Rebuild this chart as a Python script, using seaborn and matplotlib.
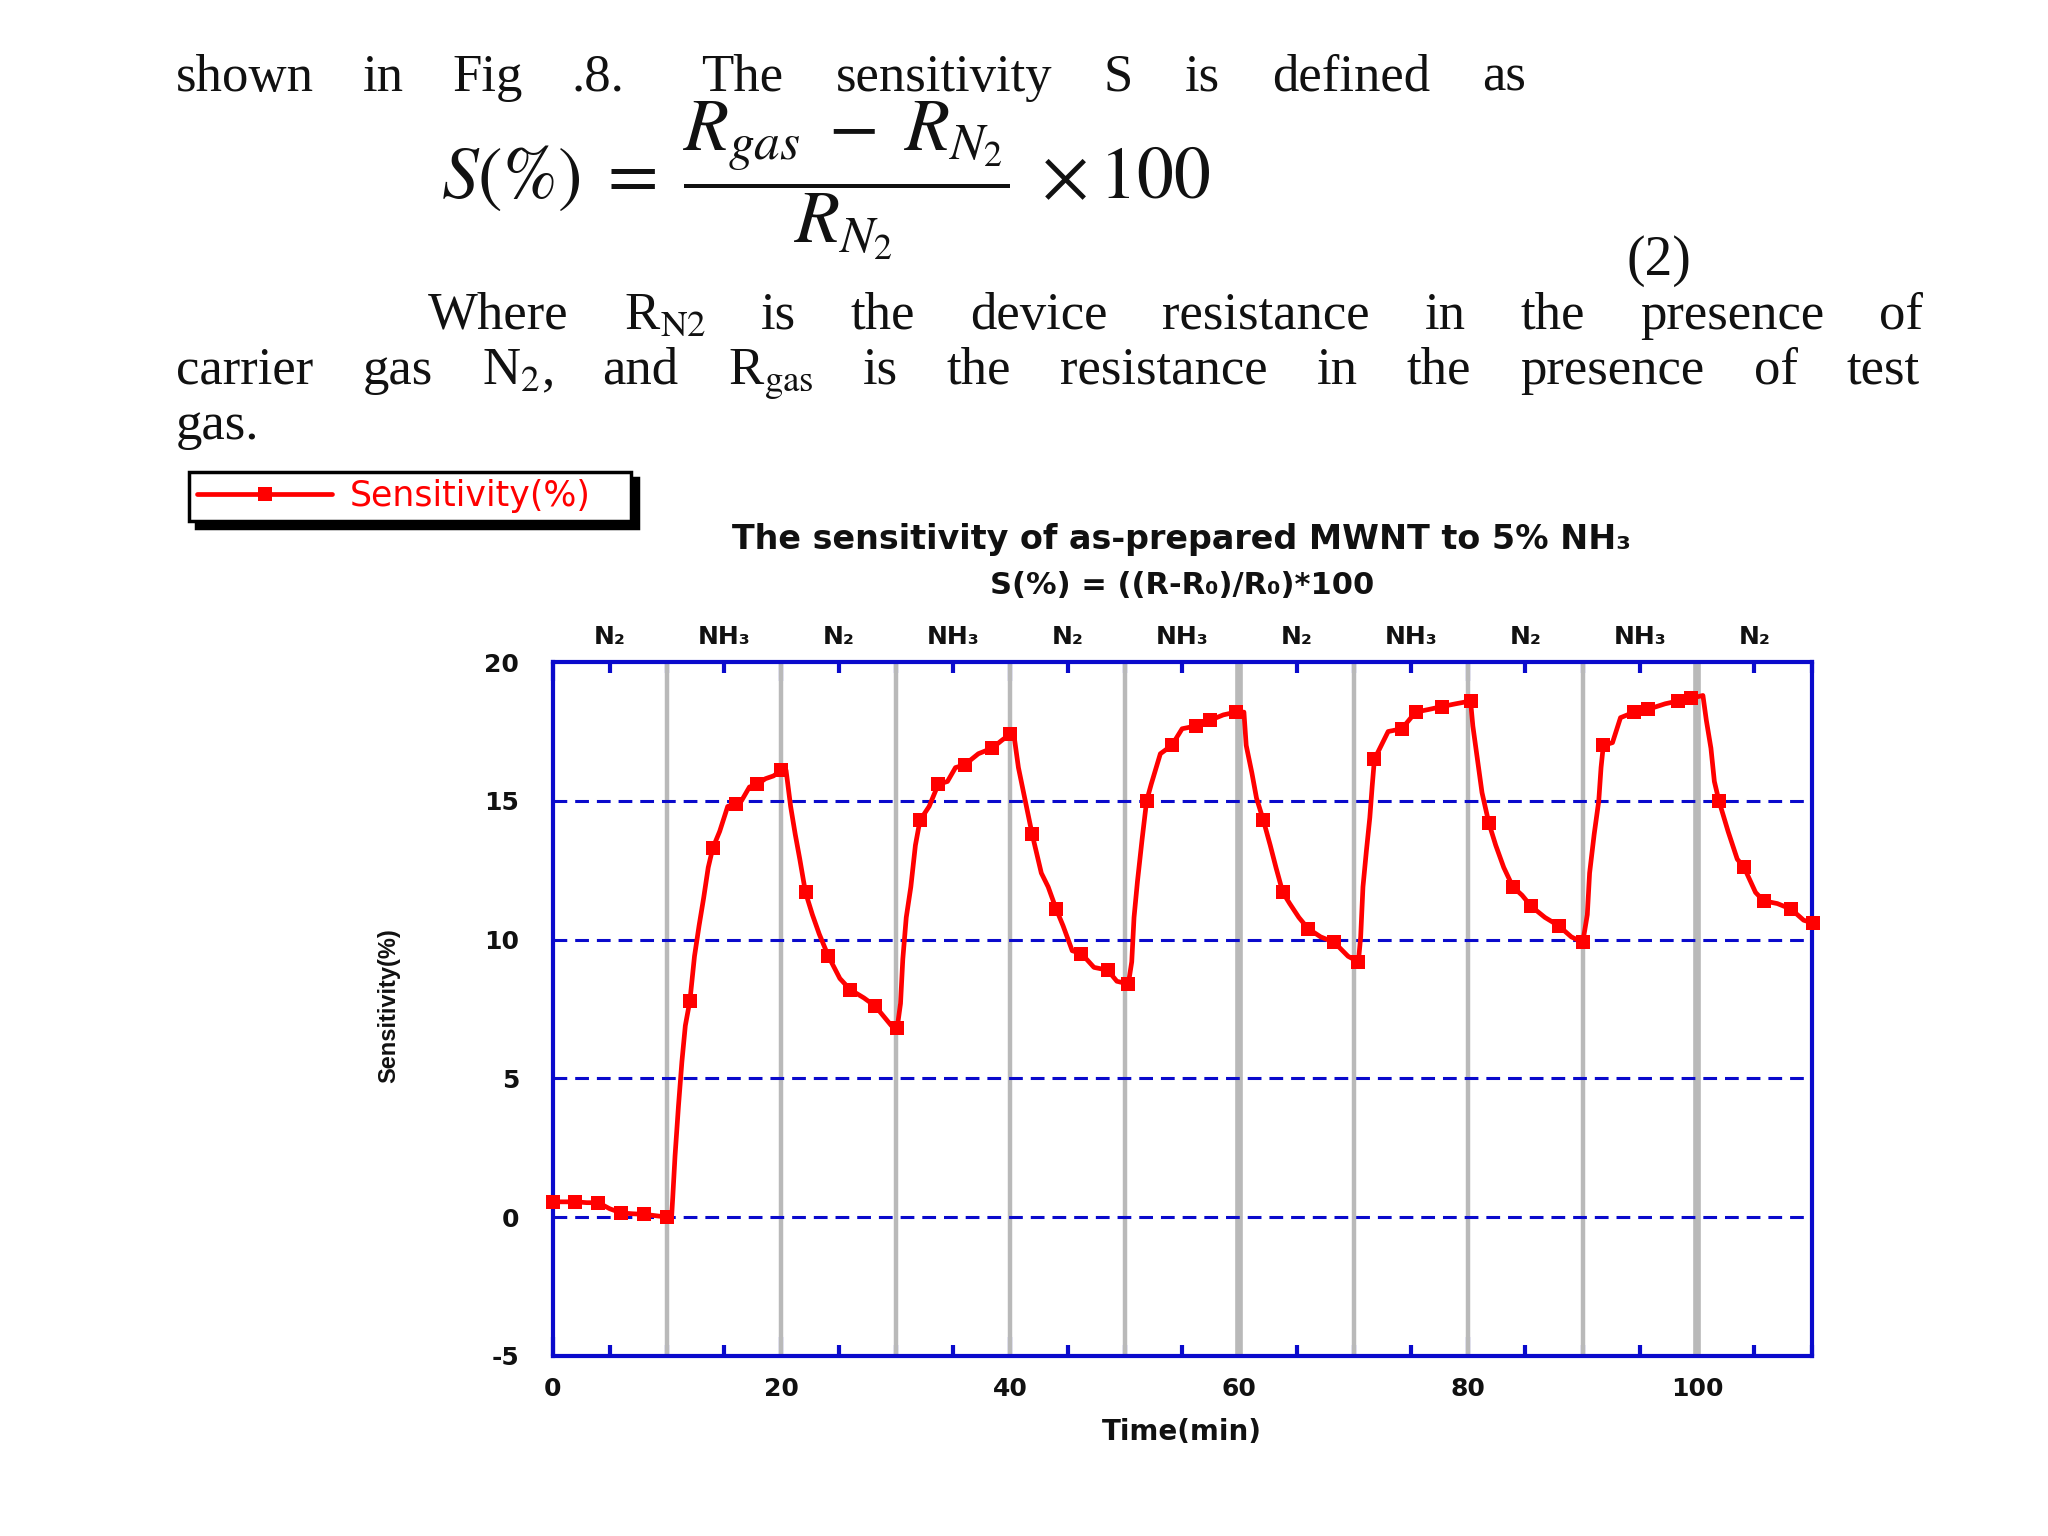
import matplotlib
matplotlib.use("Agg")
import matplotlib.pyplot as plt
from matplotlib.ticker import MultipleLocator
import numpy as np
import pandas as pd
import seaborn as sns

# ---------------- data ----------------
time_min = [0, 1, 2, 3, 4, 5, 6, 7, 8, 9, 10, 10.4,
            10.5, 10.7, 11.0, 11.3, 11.6, 12.0, 12.4, 12.8, 13.2, 13.6, 14.0, 14.6, 15.3, 16.0, 16.5, 17.2, 17.9, 18.6, 19.3, 20.0, 20.4,
            20.8, 21.2, 21.6, 22.1, 22.7, 23.3, 24.1, 25.1, 26.0, 27.2, 28.2, 29.0, 29.6, 30.1,
            30.4, 30.6, 30.9, 31.3, 31.7, 32.1, 32.9, 33.7, 34.5, 35.2, 36.0, 37.2, 38.4, 39.3, 40.0, 40.3,
            40.7, 41.3, 41.9, 42.7, 43.3, 44.0, 44.6, 45.4, 46.2, 47.3, 48.5, 49.3, 50.3,
            50.6, 50.8, 51.1, 51.5, 51.9, 52.3, 53.1, 54.1, 55.0, 56.2, 57.4, 58.6, 59.7, 60.4,
            60.6, 61.1, 61.5, 62.1, 62.7, 63.2, 63.8, 64.4, 65.2, 66.0, 67.1, 68.3, 69.5, 70.4,
            70.6, 70.8, 71.1, 71.4, 71.6, 71.8, 73.0, 74.2, 75.4, 76.6, 77.7, 78.9, 80.2,
            80.4, 80.8, 81.2, 81.8, 82.4, 83.1, 83.9, 84.7, 85.5, 86.7, 87.9, 89.0, 90.0,
            90.4, 90.6, 91.0, 91.4, 91.6, 91.8, 92.6, 93.3, 94.5, 95.7, 97.2, 98.3, 99.5, 100.5,
            100.8, 101.2, 101.5, 101.9, 102.7, 103.5, 104.1, 105.1, 105.8, 107.0, 108.2, 109.3, 110.1]

sensitivity = [0.55, 0.55, 0.55, 0.52, 0.52, 0.30, 0.15, 0.12, 0.10, 0.05, 0.0, 0.0,
               0.7, 2.2, 4.0, 5.6, 6.9, 7.8, 9.4, 10.5, 11.5, 12.6, 13.3, 13.9, 14.8, 14.9, 15.0, 15.5, 15.6, 15.8, 15.9, 16.1, 16.1,
               14.8, 13.8, 12.9, 11.7, 10.9, 10.2, 9.4, 8.6, 8.2, 7.9, 7.6, 7.2, 6.9, 6.8,
               7.7, 9.3, 10.8, 11.9, 13.4, 14.3, 14.8, 15.6, 15.7, 16.2, 16.3, 16.7, 16.9, 17.2, 17.4, 17.4,
               16.2, 15.0, 13.8, 12.4, 11.9, 11.1, 10.5, 9.6, 9.5, 9.0, 8.9, 8.5, 8.4,
               9.2, 10.8, 12.1, 13.6, 15.0, 15.6, 16.7, 17.0, 17.6, 17.7, 17.9, 18.1, 18.2, 18.2,
               17.0, 16.0, 15.1, 14.3, 13.4, 12.6, 11.7, 11.3, 10.8, 10.4, 10.1, 9.9, 9.4, 9.2,
               10.1, 11.9, 13.2, 14.4, 15.5, 16.5, 17.5, 17.6, 18.2, 18.3, 18.4, 18.5, 18.6,
               17.7, 16.5, 15.3, 14.2, 13.4, 12.6, 11.9, 11.6, 11.2, 10.8, 10.5, 10.1, 9.9,
               10.9, 12.4, 13.8, 15.0, 16.2, 17.0, 17.1, 18.0, 18.2, 18.3, 18.5, 18.6, 18.7, 18.8,
               17.9, 16.9, 15.7, 15.0, 13.9, 12.9, 12.6, 11.7, 11.4, 11.3, 11.1, 10.7, 10.6]

switch_times = [10, 20, 30, 40, 50, 60, 70, 80, 90, 100]
thick_switch_times = [60, 100]
gas_labels = ["N₂", "NH₃", "N₂", "NH₃", "N₂", "NH₃", "N₂", "NH₃", "N₂", "NH₃", "N₂"]
gas_label_centers = [5, 15, 25, 35, 45, 55, 65, 75, 85, 95, 105]
x_ticks = [0, 20, 40, 60, 80, 100]
y_ticks = [-5, 0, 5, 10, 15, 20]
grid_levels = [0, 5, 10, 15]
series_name = "Sensitivity(%)"

df = pd.DataFrame({"Time(min)": time_min, series_name: sensitivity})

# ---------------- style ----------------
sns.set_theme(style="white")
plt.rcParams["font.family"] = ["DejaVu Sans"]
plt.rcParams["mathtext.fontset"] = "stix"
plt.rcParams["axes.unicode_minus"] = False

BLUE = "#0a0acc"
RED = "#ff0000"
GRAY = "#b9b9b9"
INK = "#111111"

fig = plt.figure(figsize=(20.48, 15.36), dpi=100)
fig.patch.set_facecolor("white")
ax = fig.add_axes([0.2698, 0.1173, 0.6148, 0.4516])
ax.set_facecolor("white")

# switching lines
for t in switch_times:
    lw = 5.5 if t in thick_switch_times else 3.2
    ax.axvline(t, color=GRAY, lw=lw, zorder=1)

# dashed grid
for lv in grid_levels:
    ax.axhline(lv, color=BLUE, lw=2.2, ls=(0, (4.5, 2.6)), zorder=1.5)

# markers roughly every 2 minutes, line through all samples
t_arr = np.asarray(time_min)
mark_idx = sorted({int(np.argmin(np.abs(t_arr - m))) for m in range(0, 111, 2)})

sns.lineplot(data=df, x="Time(min)", y=series_name, ax=ax, color=RED,
             linewidth=3.4, marker="s", markersize=10, markeredgewidth=0,
             markevery=mark_idx, sort=False, estimator=None, label=series_name,
             zorder=3, clip_on=False)
handles, labels = ax.get_legend_handles_labels()
if ax.get_legend() is not None:
    ax.get_legend().remove()

ax.set_xlim(0, 110)
ax.set_ylim(-5, 20)
ax.set_xlabel("")
ax.set_ylabel("")

for sp in ax.spines.values():
    sp.set_color(BLUE)
    sp.set_linewidth(3)
    sp.set_visible(True)
    sp.set_zorder(2)

ax.set_xticks(x_ticks)
ax.xaxis.set_minor_locator(MultipleLocator(5))
ax.set_yticks(y_ticks)
ax.tick_params(axis="x", which="major", direction="in", top=True, bottom=True,
               length=14, width=3, color=BLUE, labelsize=18, pad=15)
ax.tick_params(axis="x", which="minor", direction="in", top=True, bottom=True,
               length=8, width=3, color=BLUE)
ax.tick_params(axis="y", which="both", left=False, right=False, length=0,
               labelsize=18, pad=24)
for lab in ax.get_xticklabels() + ax.get_yticklabels():
    lab.set_fontweight("bold")
    lab.set_color(INK)

# gas phase labels above the frame
for c, g in zip(gas_label_centers, gas_labels):
    ax.text(c, 1.026, g, transform=ax.get_xaxis_transform(), ha="center",
            va="baseline", fontsize=18, fontweight="bold", color=INK)

# titles and axis labels
fig.text(0.577, 0.649, "The sensitivity of as-prepared MWNT to 5% NH₃", ha="center",
         va="center", fontsize=24, fontweight="bold", color=INK)
fig.text(0.577, 0.619, "S(%) = ((R-R₀)/R₀)*100", ha="center", va="center",
         fontsize=22, fontweight="bold", color=INK)
fig.text(0.577, 0.068, "Time(min)", ha="center", va="center", fontsize=20,
         fontweight="bold", color=INK)
fig.text(0.190, 0.345, "Sensitivity(%)", rotation=90, ha="center", va="center",
         fontsize=17, fontweight="bold", color=INK,
         family=["Liberation Sans", "DejaVu Sans"])

# legend box with black drop shadow (expanded to the reference box width)
leg = fig.legend(handles, [series_name], loc="upper left",
                 bbox_to_anchor=(0.0925, 0.6616, 0.2155, 0.0314), mode="expand",
                 frameon=True, fancybox=False,
                 shadow={"ox": 5, "oy": -5, "color": "black", "alpha": 1},
                 edgecolor="black", framealpha=1, fontsize=25, handlelength=3.9,
                 labelcolor=RED, borderpad=0.22, handletextpad=0.5, borderaxespad=0)
leg.get_frame().set_linewidth(2.5)

# ---------------- text block above the chart ----------------
serif = ["Liberation Serif", "DejaVu Serif"]
BODY = 38
renderer = fig.canvas.get_renderer()


def justify(words, x0, x1, y, size=BODY):
    items = [fig.text(0, y, w, fontsize=size, family=serif, va="baseline",
                      ha="left", color=INK) for w in words]
    widths = [it.get_window_extent(renderer).width / fig.bbox.width for it in items]
    gap = (x1 - x0 - sum(widths)) / max(len(words) - 1, 1)
    x = x0
    for it, w in zip(items, widths):
        it.set_x(x)
        x += w + gap


justify(["shown", "in", "Fig", ".8."], 0.086, 0.305, 0.941)
justify(["The", "sensitivity", "S", "is", "defined", "as"], 0.3425, 0.745, 0.941)
fig.text(0.403, 0.882,
         r"$S(\%)\;=\;\dfrac{R_{gas}\;-\;R_{N_2}}{R_{N_2}}\;\times 100$",
         fontsize=53, ha="center", va="center", color=INK)
fig.text(0.810, 0.830, "(2)", fontsize=BODY + 2, family=serif, ha="center",
         va="center", color=INK)
justify(["Where", r"R$_{\mathrm{N2}}$", "is", "the", "device", "resistance", "in",
         "the", "presence", "of"], 0.209, 0.939, 0.786)
justify(["carrier", "gas", r"N$_{2}$,", "and", r"R$_{\mathrm{gas}}$", "is", "the",
         "resistance", "in", "the", "presence", "of", "test"], 0.086, 0.9375, 0.750)
fig.text(0.086, 0.714, "gas.", fontsize=BODY, family=serif, va="baseline",
         ha="left", color=INK)

fig.savefig("out.png", dpi=100, facecolor="white")
